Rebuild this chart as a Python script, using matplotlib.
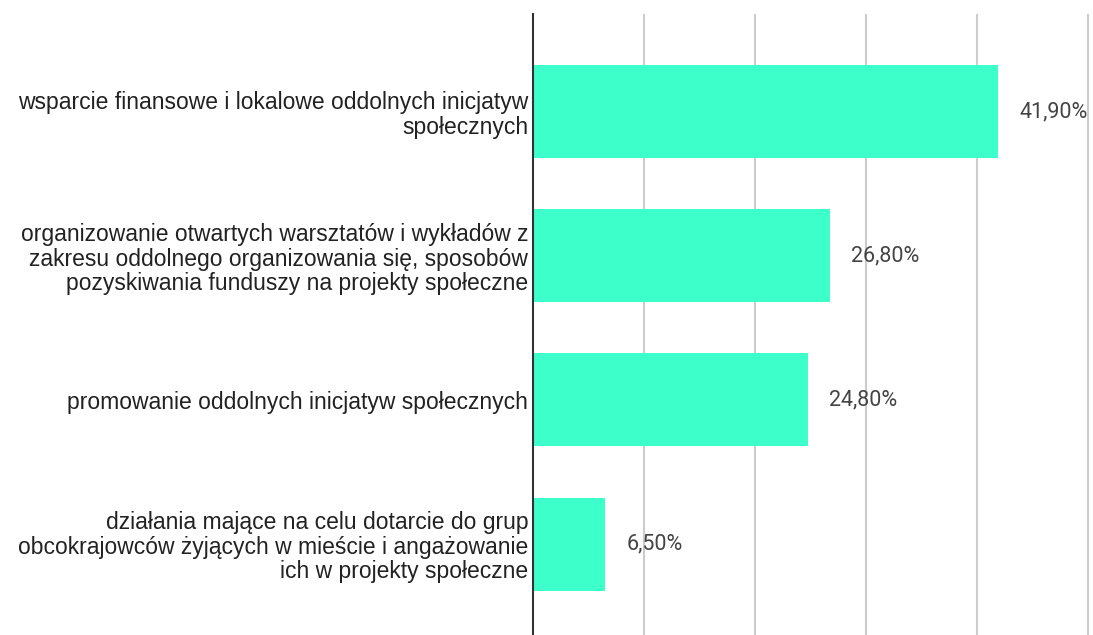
import matplotlib.pyplot as plt

# Data
categories = [
    'wsparcie finansowe i lokalowe oddolnych inicjatyw\nspołecznych',
    'organizowanie otwartych warsztatów i wykładów z\nzakresu oddolnego organizowania się, sposobów\npozyskiwania funduszy na projekty społeczne',
    'promowanie oddolnych inicjatyw społecznych',
    'działania mające na celu dotarcie do grup\nobcokrajowców żyjących w mieście i angażowanie\nich w projekty społeczne',
]
values = [41.9, 26.8, 24.8, 6.5]
value_labels = ['41,90%', '26,80%', '24,80%', '6,50%']
grid_ticks = [10, 20, 30, 40, 50]

BAR_COLOR = '#3dffc9'

fig = plt.figure(figsize=(10.93, 6.35), dpi=100)
W, H = 1093, 635
# axes placed in pixel terms: left at 533px, top at 14px, down to the bottom edge
ax = fig.add_axes([533 / W, 0, (W - 533) / W, (H - 14) / H])

y = list(range(len(values)))
ax.barh(y, values, height=0.645, color=BAR_COLOR, zorder=3)

ax.set_xlim(0, 50.45)
ax.set_ylim(3.63, -0.677)

ax.set_xticks(grid_ticks)
ax.xaxis.grid(True, color='#cccccc', linewidth=1.5, zorder=0)
ax.tick_params(axis='x', length=0, labelbottom=False)

ax.set_yticks(y)
ax.set_yticklabels(categories, fontsize=16.5, color='#222222',
                   family='Liberation Sans', linespacing=1.08)
ax.tick_params(axis='y', length=0, pad=3.5)

for s in ['top', 'right', 'bottom']:
    ax.spines[s].set_visible(False)
ax.spines['left'].set_color('#333333')
ax.spines['left'].set_linewidth(1.5)
ax.spines['left'].set_zorder(4)

for yi, v, lab in zip(y, values, value_labels):
    ax.annotate(lab, (v, yi), xytext=(21, 0), textcoords='offset pixels',
                va='center', ha='left', fontsize=15.5, color='#444444',
                family='Roboto')

fig.savefig('out.png', dpi=100)
